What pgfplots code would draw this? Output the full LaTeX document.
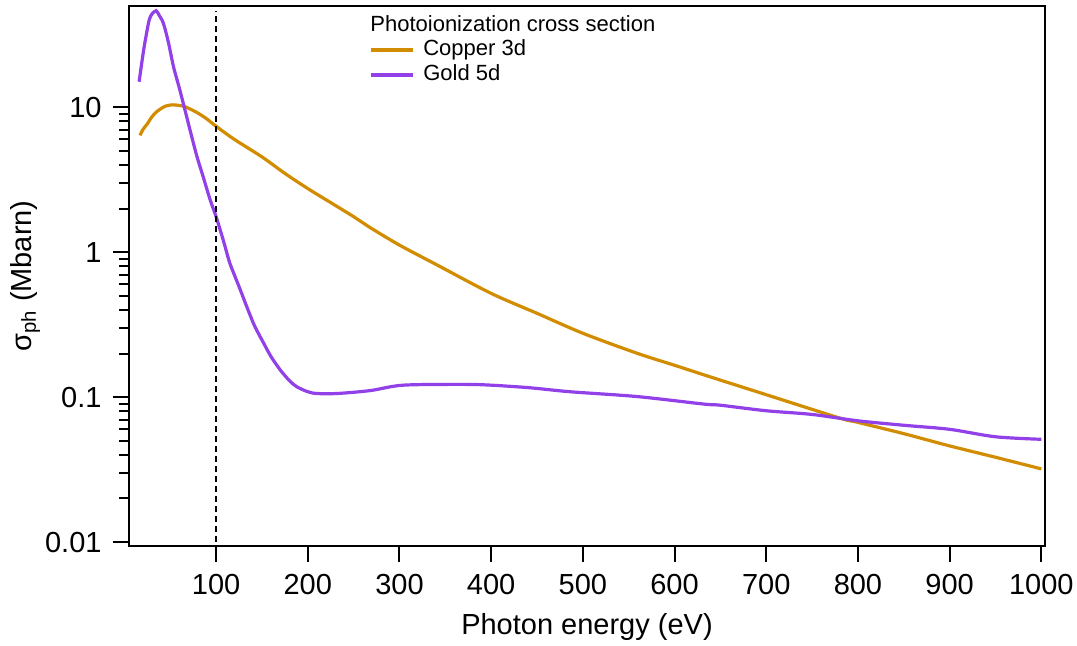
\documentclass[border=0pt]{standalone}
\usepackage{fontspec}
\setmainfont{Liberation Sans}
\usepackage{pgfplots}
\pgfplotsset{compat=1.18}
\definecolor{cuorange}{RGB}{210,140,0}
\definecolor{aupurple}{RGB}{146,64,232}

\pgfplotstableread{
E sigma
17 6.4
20 7.0
25 7.7
30 8.6
35 9.3
40 9.8
45 10.2
52 10.4
60 10.3
66 10.1
75 9.5
83 8.9
90 8.3
100 7.4
120 6.0
150 4.55
175 3.5
200 2.75
225 2.2
250 1.76
268 1.48
300 1.12
341 0.817
400 0.52
450 0.379
500 0.276
559 0.201
600 0.166
639 0.138
700 0.104
780 0.0718
800 0.0670
850 0.0560
900 0.0461
950 0.0385
1000 0.032
}\copper

\pgfplotstableread{
E sigma
16 15.0
21 24.9
24 32
27 40
30 44
34.6 46.4
38 43
42.5 38
48 28
53.5 19.1
60 13.5
66 9.6
72 6.8
79 4.6
86 3.3
93.5 2.3
100 1.76
108 1.2
115 0.84
125 0.58
133.5 0.42
142 0.31
152 0.235
160 0.19
170 0.154
180 0.13
188 0.118
200 0.109
210 0.106
232 0.106
268 0.111
304 0.121
370 0.1225
400 0.121
443 0.116
486 0.109
559 0.101
632 0.0896
650 0.088
700 0.0806
750 0.076
800 0.0687
850 0.064
900 0.060
950 0.0533
1000 0.0512
}\gold

\begin{document}
\begin{tikzpicture}
\useasboundingbox (0,0) rectangle (538.5pt,323pt);
\begin{axis}[
  at={(64.5pt,50pt)}, anchor=south west,
  scale only axis, width=458pt, height=270pt,
  xmin=5, xmax=1004,
  ymode=log, ymin=0.0094, ymax=50,
  xtick={100,200,...,1000},
  ytick={0.01,0.1,1,10}, yticklabels={0.01,0.1,1,10},
  tick align=outside, xtick pos=bottom, ytick pos=left,
  major tick length=8pt, minor tick length=5pt,
  axis line style={line width=1pt},
  every tick/.style={black, line width=1pt},
  tick label style={font=\fontsize{14.5}{16}\selectfont},
  xticklabel style={yshift=-2.5pt, /pgf/number format/1000 sep={}},
  yticklabel style={xshift=-2.2pt},
  /pgf/number format/assume math mode=true,
  xlabel={Photon energy (eV)},
  ylabel={σ\textsubscript{ph} (Mbarn)},
  every axis x label/.style={at={(axis description cs:0.5,-0.163)}, anchor=base, font=\fontsize{14.5}{16}\selectfont},
  every axis y label/.style={at={(axis description cs:-0.1135,0.5)}, anchor=center, rotate=90, font=\fontsize{14.5}{16}\selectfont},
  legend image code/.code={\draw[#1] (0pt,0pt) -- (21pt,0pt);},
  legend cell align=left,
  legend style={at={(rel axis cs:0.2617,0.9426)}, anchor=north west,
    draw=none, fill=none, inner sep=0pt, row sep=0pt, column sep=3.5pt,
    font=\fontsize{11}{13}\selectfont,
    nodes={inner sep=1pt, text height=8pt, text depth=2.5pt}},
]
\addplot[cuorange, line width=1.6pt, smooth] table[x=E, y=sigma] {\copper};
\addlegendentry{Copper 3d}
\addplot[aupurple, line width=1.6pt, smooth] table[x=E, y=sigma] {\gold};
\addlegendentry{Gold 5d}
\addplot[black, line width=0.7pt, dash pattern=on 3pt off 2pt, forget plot] coordinates {(100,0.01) (100,46)};
\node[anchor=base west, font=\fontsize{11}{13}\selectfont, inner sep=0pt] at (rel axis cs:0.2631,0.9524) {Photoionization cross section};
\end{axis}
\end{tikzpicture}
\end{document}
